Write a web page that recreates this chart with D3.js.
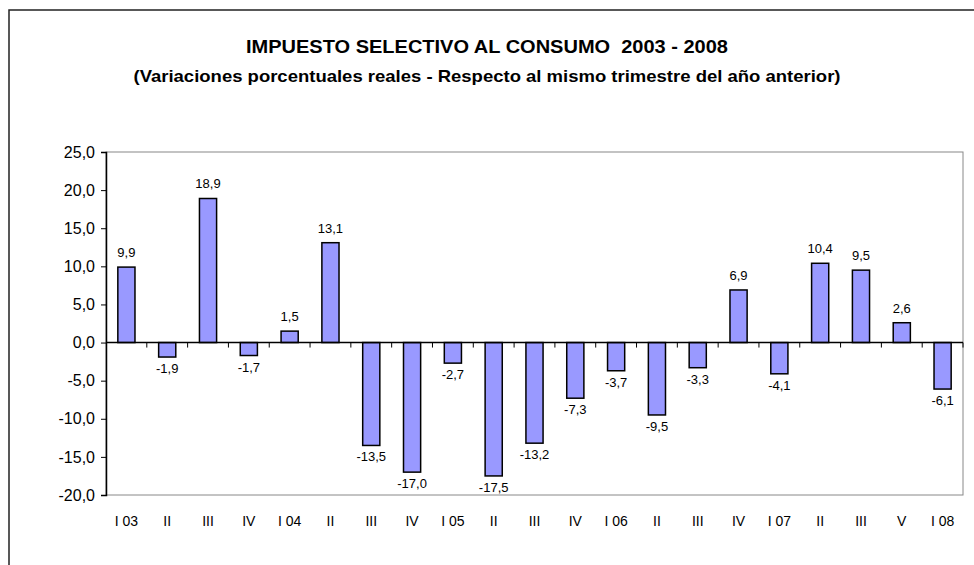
<html>
  <head>
    <meta charset="utf-8">
    <title>Impuesto selectivo al consumo</title>
  </head>
<style>
  body { margin: 0; background: #fff; }
  text { font-family: "Liberation Sans", Arial, sans-serif; }
  .ttl { font-family: "Liberation Sans Narrow", "Liberation Sans", Arial, sans-serif; font-weight: bold; white-space: pre; }
</style>
  <body>
    <script src="https://d3js.org/d3.v7.min.js" charset="utf-8"></script>
    <script>

    var width = 974,
        height = 565;

    // data
    var quarters = ["I 03","II","III","IV","I 04","II","III","IV","I 05","II","III","IV",
                    "I 06","II","III","IV","I 07","II","III","V","I 08"];
    var values = [9.9,-1.9,18.9,-1.7,1.5,13.1,-13.5,-17.0,-2.7,-17.5,-13.2,-7.3,
                  -3.7,-9.5,-3.3,6.9,-4.1,10.4,9.5,2.6,-6.1];
    var yTicks = [25,20,15,10,5,0,-5,-10,-15,-20];

    var margin = {left:106, right:11, top:152, bottom:70};

    // comma decimals, plain hyphen for minus
    function fmt(d){ return d.toFixed(1).replace(".",","); }

    var svg = d3.select("body").append("svg")
                .attr("width",width).attr("height",height);

    // outer frame
    svg.append("rect").attr("x",9).attr("y",10).attr("width",980).attr("height",600)
       .attr("fill","none").attr("stroke","#222").attr("stroke-width",1.5);

    svg.append("text").attr("class","ttl").attr("x",487).attr("y",53)
       .attr("text-anchor","middle").attr("font-size",19)
       .attr("textLength",482).attr("lengthAdjust","spacingAndGlyphs")
       .text("IMPUESTO SELECTIVO AL CONSUMO  2003 - 2008");
    svg.append("text").attr("class","ttl").attr("x",487).attr("y",82)
       .attr("text-anchor","middle").attr("font-size",17)
       .attr("textLength",707).attr("lengthAdjust","spacingAndGlyphs")
       .text("(Variaciones porcentuales reales - Respecto al mismo trimestre del año anterior)");

    var x = d3.scaleBand().domain(d3.range(quarters.length))
              .range([margin.left, width-margin.right]).paddingInner(0.58).paddingOuter(0.29);
    var band = d3.scaleBand().domain(d3.range(quarters.length))
              .range([margin.left, width-margin.right]);
    var y = d3.scaleLinear().domain([-20,25]).range([height-margin.bottom, margin.top]);

    // plot border (gray)
    svg.append("rect").attr("x",margin.left).attr("y",y(25))
       .attr("width",width-margin.right-margin.left).attr("height",y(-20)-y(25))
       .attr("fill","none").attr("stroke","#888").attr("stroke-width",1);

    // bars
    svg.selectAll("rect.bar").data(values).enter().append("rect")
       .attr("class","bar")
       .attr("x",function(d,i){ return x(i); })
       .attr("width",x.bandwidth())
       .attr("y",function(d){ return y(Math.max(0,d)); })
       .attr("height",function(d){ return Math.abs(y(d)-y(0)); })
       .attr("fill","#9999FF").attr("stroke","#000").attr("stroke-width",1.5);

    // value labels
    svg.selectAll("text.val").data(values).enter().append("text")
       .attr("class","val")
       .attr("x",function(d,i){ return x(i)+x.bandwidth()/2; })
       .attr("y",function(d){ return d>=0 ? y(d)-10 : y(d)+16; })
       .attr("text-anchor","middle").attr("font-size",13).attr("fill","#000")
       .text(fmt);

    // y axis
    var yAxis = d3.axisLeft(y).tickValues(yTicks).tickSize(5).tickPadding(6).tickFormat(fmt);
    var gy = svg.append("g").attr("transform","translate("+margin.left+",0)").call(yAxis);
    gy.select(".domain").attr("stroke","#000").attr("stroke-width",1.5);
    gy.selectAll("text").attr("font-size",16).attr("fill","#000")
      .attr("font-family","'Liberation Sans', Arial, sans-serif");

    // zero line with ticks at band boundaries
    var gx = svg.append("g").attr("transform","translate(0,"+y(0)+")");
    gx.append("line").attr("x1",margin.left).attr("x2",width-margin.right)
      .attr("stroke","#000").attr("stroke-width",1.5);
    gx.selectAll("line.tk").data(d3.range(1,quarters.length+1)).enter().append("line")
      .attr("class","tk")
      .attr("x1",function(i){ return band(i-1)+band.bandwidth(); })
      .attr("x2",function(i){ return band(i-1)+band.bandwidth(); })
      .attr("y1",0).attr("y2",5).attr("stroke","#000");

    // category labels
    svg.selectAll("text.cat").data(quarters).enter().append("text")
       .attr("class","cat")
       .attr("x",function(d,i){ return band(i)+band.bandwidth()/2; })
       .attr("y",y(-20)+31)
       .attr("text-anchor","middle").attr("font-size",14).attr("fill","#000")
       .text(function(d){ return d; });

    </script>
  </body>
</html>
